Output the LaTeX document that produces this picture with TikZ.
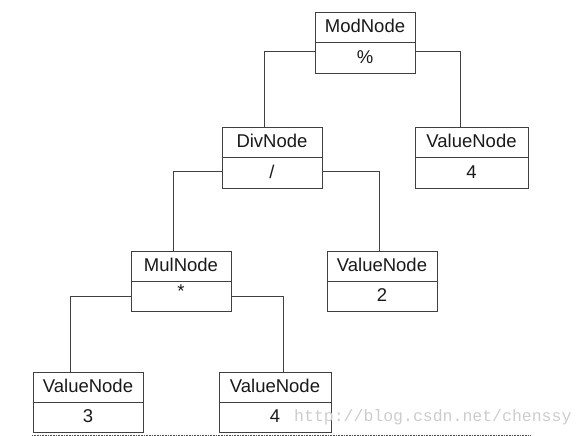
\documentclass[tikz,border=0pt]{standalone}
\usepackage{fontspec}
\setmainfont{Liberation Sans}
\newfontfamily\wmfont{Liberation Mono}
\begin{document}
\begin{tikzpicture}[x=1pt,y=-1pt,
  box/.style={draw=black!75, line width=0.8pt, rectangle, inner sep=0pt, minimum height=61pt},
  txt/.style={anchor=base, inner sep=0pt, font=\fontsize{18.5}{22}\selectfont, text=black!90},
  wire/.style={draw=black!75, line width=0.8pt},
  divider/.style={draw=black!75, line width=0.8pt}]
\useasboundingbox (0,0) rectangle (586,436);

% boxes
\node[box, minimum width=100pt] (mod) at (365,42.5) {};
\node[box, minimum width=100pt] (div) at (272,157.5) {};
\node[box, minimum width=113pt] (v4t) at (471.5,157.5) {};
\node[box, minimum width=100pt, minimum height=60pt] (mul) at (181,281) {};
\node[box, minimum width=110pt, minimum height=60pt] (v2) at (382,281) {};
\node[box, minimum width=110pt, minimum height=60pt] (v3) at (88,402) {};
\node[box, minimum width=112pt, minimum height=60pt] (v4b) at (275,402) {};

% dividers
\foreach \n in {mod,div,v4t,mul,v2,v3,v4b}
  \draw[divider] ([yshift=-31pt]\n.north west) -- ([yshift=-31pt]\n.north east);

% texts
\node[txt] (modt) at ([yshift=-21pt]mod.north) {ModNode};
\node[txt] (modv) at ([yshift=10pt]mod.south) {\%};
\node[txt] (divt) at ([yshift=-21pt]div.north) {DivNode};
\node[txt] (divv) at ([yshift=10pt]div.south) {/};
\node[txt] (v4tt) at ([yshift=-21pt]v4t.north) {ValueNode};
\node[txt] (v4tv) at ([yshift=10pt]v4t.south) {4};
\node[txt] (mult) at ([yshift=-21pt]mul.north) {MulNode};
\node[txt] (mulv) at ([yshift=14pt]mul.south) {*};
\node[txt] (v2t) at ([yshift=-21pt]v2.north) {ValueNode};
\node[txt] (v2v) at ([yshift=10pt]v2.south) {2};
\node[txt] (v3t) at ([yshift=-21pt]v3.north) {ValueNode};
\node[txt] (v3v) at ([yshift=10pt]v3.south) {3};
\node[txt] (v4bt) at ([yshift=-21pt]v4b.north) {ValueNode};
\node[txt] (v4bv) at ([yshift=10pt]v4b.south) {4};

% connectors
\draw[wire] ([yshift=-40pt]mod.north west) -| ([xshift=-8pt]div.north);
\draw[wire] ([yshift=-40pt]mod.north east) -| ([xshift=-11.5pt]v4t.north);
\draw[wire] ([yshift=-45pt]div.north west) -| ([xshift=-8pt]mul.north);
\draw[wire] ([yshift=-45pt]div.north east) -| ([xshift=-3pt]v2.north);
\draw[wire] ([yshift=-46pt]mul.north west) -| ([xshift=-18pt]v3.north);
\draw[wire] ([yshift=-46pt]mul.north east) -| ([xshift=8pt]v4b.north);

% bottom dotted rule and watermark
\coordinate (rl) at (32,435);
\coordinate (rr) at (530,435);
\draw[black!70, line width=0.6pt, dash pattern=on 0.8pt off 0.8pt] (rl) -- (rr);
\node[anchor=base west, inner sep=0pt, text=black!20, font=\wmfont\fontsize{16.5}{18}\selectfont] (wm) at (294,421) {http://blog.csdn.net/chenssy};
\end{tikzpicture}
\end{document}
